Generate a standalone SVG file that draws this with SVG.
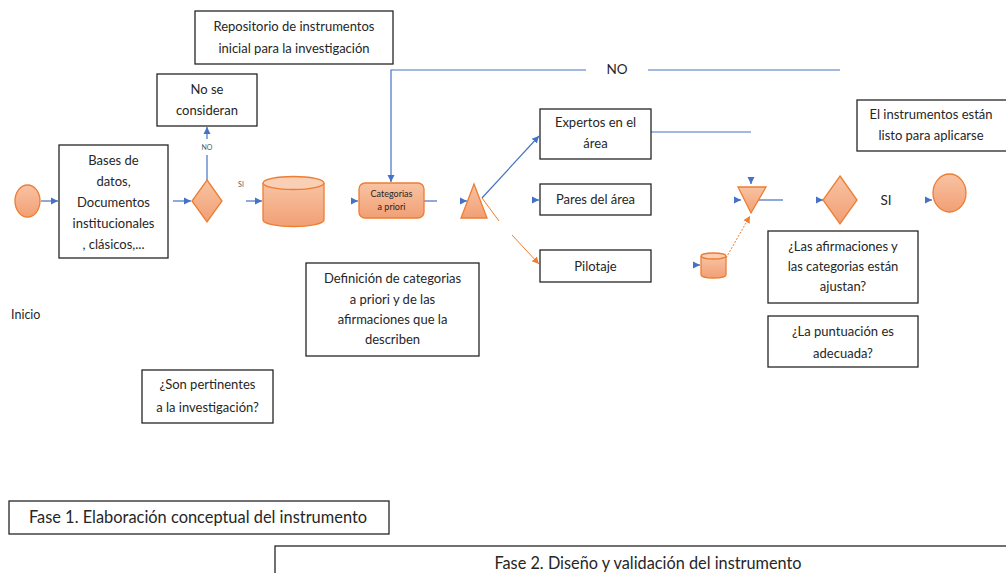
<svg xmlns="http://www.w3.org/2000/svg" width="1006" height="573" viewBox="0 0 1006 573">
<defs>
<linearGradient id="og" x1="0" y1="0" x2="0" y2="1">
<stop offset="0" stop-color="#f8c3a3"/>
<stop offset="1" stop-color="#f29f74"/>
</linearGradient>
<marker id="ab" markerUnits="userSpaceOnUse" markerWidth="8" markerHeight="8" refX="7" refY="4" orient="auto">
<path d="M0,0.5 L7,4 L0,7.5 z" fill="#4472c4"/>
</marker>
<marker id="ao" markerUnits="userSpaceOnUse" markerWidth="8" markerHeight="8" refX="7" refY="4" orient="auto">
<path d="M0,0.5 L7,4 L0,7.5 z" fill="#ed7d31"/>
</marker>
<style>
.box{fill:#fff;stroke:#262626;stroke-width:1.3}
.sh{fill:url(#og);stroke:#ed7d31;stroke-width:1.3}
.t{font-family:Lato,"Liberation Sans",sans-serif;font-size:13px;fill:#262626;text-anchor:middle}
.s{font-size:7px;fill:#595959}
.b{stroke:#4472c4;stroke-width:1.2;fill:none}
.o{stroke:#ed7d31;stroke-width:1;fill:none}
</style>
</defs>
<rect width="1006" height="573" fill="#fff"/>

<g id="connectors">
<line class="b" x1="41" y1="201" x2="58" y2="201" marker-end="url(#ab)"/>
<line class="b" x1="173" y1="201" x2="191" y2="201" marker-end="url(#ab)"/>
<line class="b" x1="207" y1="180" x2="207" y2="155"/>
<line class="b" x1="207" y1="139" x2="207" y2="127" marker-end="url(#ab)"/>
<text class="t s" x="207" y="150">NO</text>
<text class="t s" x="241" y="187">SI</text>
<line class="b" x1="246" y1="201" x2="262" y2="201" marker-end="url(#ab)"/>
<line class="b" x1="355" y1="201" x2="358" y2="201" marker-end="url(#ab)"/>
<line class="b" x1="424" y1="201" x2="437" y2="201"/>
<polyline class="b" points="840,70 648,70"/>
<polyline class="b" points="586,70 391,70 391,182" marker-end="url(#ab)"/>
<text class="t" x="617" y="74" style="font-size:13.5px">NO</text>
<line class="b" x1="464" y1="201" x2="467" y2="201" marker-end="url(#ab)"/>
<line class="b" x1="482" y1="198" x2="539" y2="136" marker-end="url(#ab)"/>
<line class="o" x1="482" y1="198" x2="499" y2="221"/>
<line class="o" x1="512" y1="235" x2="539" y2="264" marker-end="url(#ao)"/>
<line class="b" x1="536" y1="200" x2="539" y2="200" marker-end="url(#ab)"/>
<line class="b" x1="651" y1="132" x2="751" y2="132"/>
<line class="b" x1="697" y1="265" x2="700" y2="265" marker-end="url(#ab)"/>
<line class="o" x1="726" y1="258" x2="750" y2="216" stroke-dasharray="2,1.5" marker-end="url(#ao)"/>
<line class="b" x1="751" y1="180" x2="751" y2="184" marker-end="url(#ab)"/>
<line class="b" x1="735" y1="200" x2="741" y2="200" marker-end="url(#ab)"/>
<line class="b" x1="757" y1="200" x2="783" y2="200"/>
<line class="b" x1="820" y1="200" x2="823" y2="200" marker-end="url(#ab)"/>
<text class="t" x="886" y="205" style="font-size:13.5px">SI</text>
<line class="b" x1="929" y1="200" x2="932" y2="200" marker-end="url(#ab)"/>
</g>

<g id="inicio-circle"><ellipse class="sh" cx="27.5" cy="201" rx="12.5" ry="16"/></g>
<g id="inicio-label"><text class="t" x="11" y="319" style="text-anchor:start;font-size:12.5px">Inicio</text></g>

<g id="bases">
<rect class="box" x="59" y="145" width="109" height="113"/>
<text class="t"><tspan x="113.5" y="165">Bases de</tspan><tspan x="113.5" y="186">datos,</tspan><tspan x="113.5" y="207">Documentos</tspan><tspan x="113.5" y="228">institucionales</tspan><tspan x="113.5" y="249">, clásicos,...</tspan></text>
</g>

<g id="diamond1"><polygon class="sh" points="207,180 222,201 207,222 192,201"/></g>

<g id="no-se-consideran">
<rect class="box" x="157" y="74" width="100" height="52"/>
<text class="t"><tspan x="207" y="94">No se</tspan><tspan x="207" y="115">consideran</tspan></text>
</g>

<g id="repositorio">
<rect class="box" x="195" y="11" width="198" height="53"/>
<text class="t"><tspan x="294" y="31">Repositorio de instrumentos</tspan><tspan x="294" y="53">inicial para la investigación</tspan></text>
</g>

<g id="cylinder1">
<path class="sh" d="M263,183 L263,220 A30.5,6.5 0 0 0 324,220 L324,183"/>
<ellipse class="sh" cx="293.5" cy="183" rx="30.5" ry="6.5" style="fill:#f9cfb6"/>
</g>

<g id="categorias">
<rect class="sh" x="359" y="183" width="65" height="35" rx="6"/>
<text class="t" style="font-size:9px"><tspan x="391.5" y="197">Categorias</tspan><tspan x="391.5" y="210">a priori</tspan></text>
</g>

<g id="triangle1"><polygon class="sh" points="474,184 487,218 461,218"/></g>

<g id="expertos">
<rect class="box" x="540" y="109" width="111" height="50"/>
<text class="t"><tspan x="595.5" y="127">Expertos en el</tspan><tspan x="595.5" y="148">área</tspan></text>
</g>
<g id="pares">
<rect class="box" x="540" y="184" width="111" height="31"/>
<text class="t" x="595.5" y="204">Pares del área</text>
</g>
<g id="pilotaje">
<rect class="box" x="540" y="250" width="111" height="32"/>
<text class="t" x="595.5" y="271">Pilotaje</text>
</g>

<g id="definicion">
<rect class="box" x="306" y="263" width="173" height="93"/>
<text class="t"><tspan x="392.5" y="283">Definición de categorias</tspan><tspan x="392.5" y="304">a priori y de las</tspan><tspan x="392.5" y="324">afirmaciones que la</tspan><tspan x="392.5" y="344">describen</tspan></text>
</g>

<g id="pertinentes">
<rect class="box" x="142" y="370" width="131" height="53"/>
<text class="t"><tspan x="207.5" y="389">¿Son pertinentes</tspan><tspan x="207.5" y="412">a la investigación?</tspan></text>
</g>

<g id="cylinder2">
<path class="sh" d="M701,256 L701,275 A12.5,3 0 0 0 726,275 L726,256"/>
<ellipse class="sh" cx="713.5" cy="256" rx="12.5" ry="3" style="fill:#f9cfb6"/>
</g>

<g id="triangle2"><polygon class="sh" points="738,187 766,187 751,213"/></g>

<g id="diamond2"><polygon class="sh" points="840,176 857,200 840,224 823,200"/></g>

<g id="end-circle"><ellipse class="sh" cx="949.5" cy="193" rx="16.5" ry="19"/></g>

<g id="listo">
<rect class="box" x="857" y="100" width="152" height="51"/>
<text class="t"><tspan x="931" y="119">El instrumentos están</tspan><tspan x="931" y="140">listo para aplicarse</tspan></text>
</g>

<g id="afirmaciones">
<rect class="box" x="768" y="231" width="150" height="72"/>
<text class="t"><tspan x="843" y="251">¿Las afirmaciones y</tspan><tspan x="843" y="271">las categorias están</tspan><tspan x="843" y="291">ajustan?</tspan></text>
</g>

<g id="puntuacion">
<rect class="box" x="768" y="316" width="150" height="51"/>
<text class="t"><tspan x="843" y="336">¿La puntuación es</tspan><tspan x="843" y="358">adecuada?</tspan></text>
</g>

<g id="fase1">
<rect class="box" x="9" y="501" width="380" height="33"/>
<text class="t" x="198" y="523" style="font-size:16.4px">Fase 1. Elaboración conceptual del instrumento</text>
</g>

<g id="fase2">
<rect class="box" x="275" y="546" width="740" height="40"/>
<text class="t" x="648" y="569" style="font-size:16.3px">Fase 2. Diseño y validación del instrumento</text>
</g>
</svg>
